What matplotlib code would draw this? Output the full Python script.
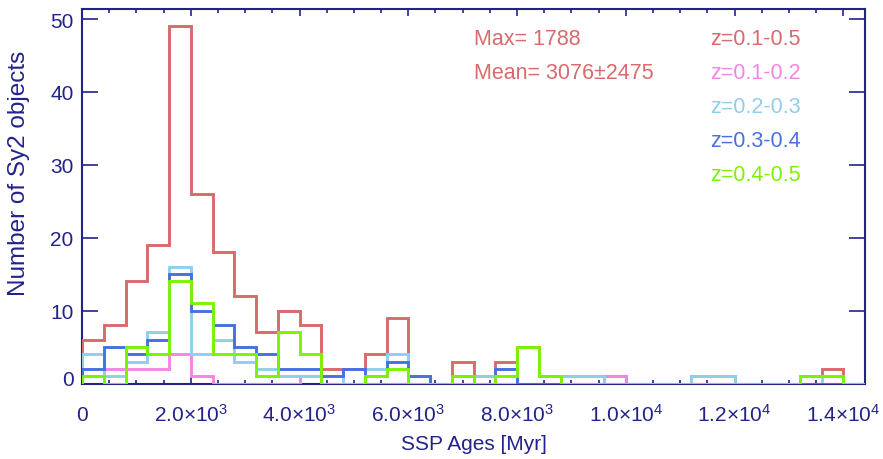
import numpy as np
import matplotlib
matplotlib.use("Agg")
import matplotlib.pyplot as plt
from matplotlib.transforms import ScaledTranslation

# Histogram bins of SSP age (Myr)
bin_start = 0
bin_width = 400
n_bins = 36
edges = bin_start + bin_width * np.arange(n_bins + 1)

# Counts per bin for each redshift slice
counts_all = [6, 8, 14, 19, 49, 26, 18, 12, 7, 10, 8, 2, 2, 4, 9, 1, 0, 3,
              1, 3, 5, 1, 1, 1, 1, 0, 0, 0, 1, 1, 0, 0, 0, 1, 2, 0]
counts_z12 = [1, 2, 2, 2, 4, 1, 0, 0, 0, 0, 1, 0, 0, 0, 0, 0, 0, 1,
              0, 0, 0, 0, 0, 0, 1, 0, 0, 0, 0, 0, 0, 0, 0, 0, 0, 0]
counts_z23 = [4, 1, 3, 7, 16, 4, 6, 3, 2, 1, 1, 1, 0, 2, 4, 0, 0, 0,
              1, 0, 0, 0, 1, 1, 0, 0, 0, 0, 1, 1, 0, 0, 0, 0, 1, 0]
counts_z34 = [2, 5, 4, 6, 15, 10, 8, 5, 4, 2, 2, 1, 2, 1, 3, 1, 0, 1,
              0, 2, 0, 0, 0, 0, 0, 0, 0, 0, 0, 0, 0, 0, 0, 0, 0, 0]
counts_z45 = [1, 0, 5, 4, 14, 11, 4, 4, 1, 7, 4, 0, 0, 1, 2, 0, 0, 1,
              0, 1, 5, 1, 0, 0, 0, 0, 0, 0, 0, 0, 0, 0, 0, 1, 1, 0]

series_labels = ["z=0.1-0.5", "z=0.1-0.2", "z=0.2-0.3", "z=0.3-0.4", "z=0.4-0.5"]
series_colors = ["#d96a6c", "#f286e6", "#8fcfec", "#4a70e0", "#7cf300"]
series_counts = [counts_all, counts_z12, counts_z23, counts_z34, counts_z45]

x_ticks = [0, 2000, 4000, 6000, 8000, 10000, 12000, 14000]
x_tick_labels = ["0", "2.0\u00d710$^{3}$", "4.0\u00d710$^{3}$", "6.0\u00d710$^{3}$",
                 "8.0\u00d710$^{3}$", "1.0\u00d710$^{4}$", "1.2\u00d710$^{4}$",
                 "1.4\u00d710$^{4}$"]
y_ticks = [0, 10, 20, 30, 40, 50]

stats_lines = ["Max= 1788", "Mean= 3076\u00b12475"]

plt.rcParams["font.family"] = ["Liberation Sans", "DejaVu Sans"]
plt.rcParams["mathtext.fontset"] = "custom"
plt.rcParams["mathtext.rm"] = "Liberation Sans"
plt.rcParams["mathtext.it"] = "Liberation Sans:italic"
plt.rcParams["mathtext.bf"] = "Liberation Sans:bold"

axis_color = "#22228a"
fs_tick = 15
fs_text = 15.5

fig = plt.figure(figsize=(8.83, 4.60), dpi=100)
ax = fig.add_axes([82 / 883, 1 - 384.5 / 460, (865 - 82) / 883, (384.5 - 9.5) / 460])

for counts, color in zip(series_counts, series_colors):
    ax.stairs(counts, edges, baseline=0, color=color, linewidth=2.1, zorder=3)

ax.set_xlim(edges[0], edges[-1])
ax.set_ylim(0, max(counts_all) * 1.05)

ax.set_xticks(x_ticks)
ax.set_xticklabels(x_tick_labels)
ax.set_xticks(np.arange(0, edges[-1] + 1, 500), minor=True)
ax.set_yticks(y_ticks)

ax.tick_params(axis="both", which="both", direction="in", top=True, right=True,
               colors=axis_color, labelcolor=axis_color, labelsize=fs_tick)
ax.tick_params(axis="x", which="major", length=5, width=1.2, pad=26.5)
ax.tick_params(axis="x", which="minor", length=3, width=1.2)
ax.tick_params(axis="y", which="major", length=11.5, width=1.2, pad=6)
for lab in ax.get_xticklabels():
    lab.set_verticalalignment("baseline")

# lift the zero label slightly off the bottom axis
zero_lab = ax.get_yticklabels()[0]
zero_lab.set_transform(zero_lab.get_transform() +
                       ScaledTranslation(0, 6 / 100, fig.dpi_scale_trans))

for sp in ax.spines.values():
    sp.set_color(axis_color)
    sp.set_linewidth(1.5)

ax.set_xlabel("SSP Ages [Myr]", fontsize=fs_tick, color=axis_color)
ax.xaxis.set_label_coords(0.5, -0.135)
ax.set_ylabel("Number of Sy2 objects", fontsize=17.5, color=axis_color)
ax.yaxis.set_label_coords(-0.066, 0.564)

# Summary statistics of the full sample
for i, txt in enumerate(stats_lines):
    ax.text(7200, 47.3 - 4.6 * i, txt, color=series_colors[0], fontsize=fs_text,
            ha="left", va="center", zorder=4)

# Coloured series key
for i, (lab, color) in enumerate(zip(series_labels, series_colors)):
    ax.text(11550, 47.3 - 4.65 * i, lab, color=color, fontsize=fs_text,
            ha="left", va="center", zorder=4)

fig.savefig("out.png", dpi=100)
